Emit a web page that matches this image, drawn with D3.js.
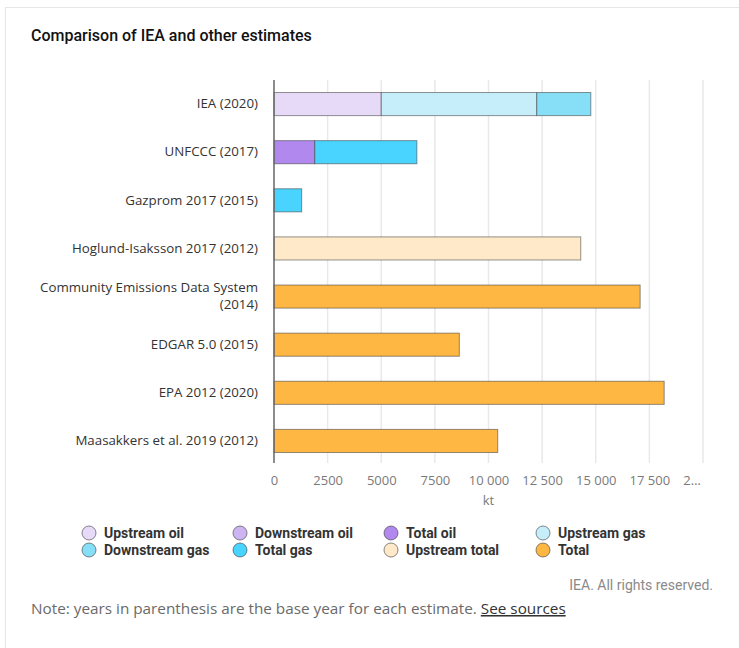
<!DOCTYPE html>
<html><head><meta charset="utf-8">
<script src="https://cdn.jsdelivr.net/npm/d3@7"></script>
<style>
html,body{margin:0;padding:0;background:#fff;}
svg{display:block;}
</style></head>
<body>
<svg id="chart" width="739" height="648"></svg>
<script>
const categories = ["IEA (2020)","UNFCCC (2017)","Gazprom 2017 (2015)","Hoglund-Isaksson 2017 (2012)","Community Emissions Data System (2014)","EDGAR 5.0 (2015)","EPA 2012 (2020)","Maasakkers et al. 2019 (2012)"];
const seriesNames = ["Upstream oil","Downstream oil","Total oil","Upstream gas","Downstream gas","Total gas","Upstream total","Total"];
const seriesColors = ["#e7d9f8","#cdb5f1","#b088ee","#c5eefa","#86dff6","#48d4fe","#ffe9c8","#ffb743"];
const upstreamOil   = [5000,0,0,0,0,0,0,0];
const downstreamOil = [0,0,0,0,0,0,0,0];
const totalOil      = [0,1900,0,0,0,0,0,0];
const upstreamGas   = [7250,0,0,0,0,0,0,0];
const downstreamGas = [2520,0,0,0,0,0,0,0];
const totalGas      = [0,4760,1290,0,0,0,0,0];
const upstreamTotal = [0,0,0,14300,0,0,0,0];
const total         = [0,0,0,0,17070,8640,18190,10430];
const xTicks = [0,2500,5000,7500,10000,12500,15000,17500,20000];
const xMax = 20000;

const seriesValues = [upstreamOil,downstreamOil,totalOil,upstreamGas,downstreamGas,totalGas,upstreamTotal,total];
const table = categories.map((c,i)=>{const o={cat:c}; seriesNames.forEach((s,j)=>o[s]=seriesValues[j][i]); return o;});

const svg = d3.select("#chart");
const FONT = "Open Sans, sans-serif";

// card border
svg.append("rect").attr("x",5.5).attr("y",7.5).attr("width",760).attr("height",700)
  .attr("fill","#fff").attr("stroke","#e6e6e6").attr("stroke-width",1);

svg.append("text").attr("x",31).attr("y",41).text("Comparison of IEA and other estimates")
  .attr("font-family","Roboto, sans-serif").attr("font-weight",500).attr("font-size",16).attr("fill","#111");

const m = {left:274, right:703, top:80, bottom:465};
const x = d3.scaleLinear().domain([0,xMax]).range([m.left,m.right]);
const y = d3.scaleBand().domain(categories).range([m.top,m.bottom]).paddingInner(0.52).paddingOuter(0.26);

// gridlines
svg.append("g").selectAll("line").data(xTicks.slice(1)).join("line")
  .attr("x1",d=>x(d)).attr("x2",d=>x(d)).attr("y1",m.top).attr("y2",463)
  .attr("stroke","#e9e9e9").attr("stroke-width",1.5);

// x axis labels
const xAxis = d3.axisBottom(x).tickValues(xTicks).tickSize(0).tickPadding(0)
  .tickFormat(d=>d>=10000 ? d3.format(",")(d).replace(/,/g," ") : String(d));
const gx = svg.append("g").attr("transform",`translate(0,${476})`).call(xAxis);
gx.select(".domain").remove();
gx.selectAll("text").attr("font-family",FONT).attr("font-size",13).attr("fill","#7a7a7a").attr("dy","0.71em");
// truncate last label
gx.selectAll(".tick").filter(d=>d===xMax).select("text").each(function(){
  const t=d3.select(this); const w=this.getComputedTextLength();
  t.text("2…").attr("text-anchor","start").attr("x",-w/2);
});
svg.append("text").attr("x",(m.left+m.right)/2).attr("y",505).attr("text-anchor","middle")
  .attr("font-family",FONT).attr("font-size",13).attr("fill","#7a7a7a").text("kt");

// bars
const stack = d3.stack().keys(seriesNames)(table);
const gb = svg.append("g");
stack.forEach((layer,j)=>{
  gb.append("g").selectAll("rect").data(layer.filter(d=>d[1]-d[0]>0)).join("rect")
    .attr("x",d=>x(d[0])).attr("width",d=>x(d[1])-x(d[0]))
    .attr("y",d=>y(d.data.cat)).attr("height",y.bandwidth())
    .attr("fill",seriesColors[j]).attr("stroke","rgba(60,60,60,0.55)").attr("stroke-width",1);
});

// y axis line
svg.append("line").attr("x1",m.left).attr("x2",m.left).attr("y1",m.top).attr("y2",463)
  .attr("stroke","#666").attr("stroke-width",1.5);

// category labels
const yAxis = d3.axisLeft(y).tickSize(0).tickPadding(16);
const gy = svg.append("g").attr("transform",`translate(${m.left},0)`).call(yAxis);
gy.select(".domain").remove();
gy.selectAll("text").attr("font-family",FONT).attr("font-size",13.3).attr("fill","#333").each(function(){
  const t=d3.select(this); const full=t.text();
  if(this.getComputedTextLength()>228){
    const words=full.split(" "); let lines=[]; let cur=[];
    t.text("");
    const tmp=t.append("tspan");
    words.forEach(w=>{cur.push(w); tmp.text(cur.join(" "));
      if(tmp.node().getComputedTextLength()>228 && cur.length>1){cur.pop(); lines.push(cur.join(" ")); cur=[w];}});
    lines.push(cur.join(" ")); tmp.remove();
    const lh=17; const x0=t.attr("x");
    lines.forEach((l,i)=>t.append("tspan").attr("x",x0).attr("dy",i===0?(0.32-(lines.length-1)/2*lh/13.3)+"em":lh+"px").text(l));
  }
});

// legend
const legX=[89,240,391,543], legY=[533,550];
const gl=svg.append("g");
seriesNames.forEach((s,i)=>{
  const cx=legX[i%4], cy=legY[Math.floor(i/4)];
  gl.append("circle").attr("cx",cx).attr("cy",cy).attr("r",7).attr("fill",seriesColors[i])
    .attr("stroke","rgba(60,60,60,0.6)").attr("stroke-width",1);
  gl.append("text").attr("x",cx+15).attr("y",cy).attr("dy","0.35em").text(s)
    .attr("font-family","Roboto, sans-serif").attr("font-weight",700).attr("font-size",14).attr("fill","#333");
});

svg.append("text").attr("x",713).attr("y",590).attr("text-anchor","end").text("IEA. All rights reserved.")
  .attr("font-family","Roboto, sans-serif").attr("font-size",14).attr("fill","#8a8a8a");
const note=svg.append("text").attr("x",31).attr("y",614).attr("font-family",FONT).attr("font-size",15.3).attr("fill","#6a6a6a");
note.append("tspan").text("Note: years in parenthesis are the base year for each estimate. ");
note.append("tspan").text("See sources").attr("fill","#333").attr("text-decoration","underline");
</script>
</body></html>
